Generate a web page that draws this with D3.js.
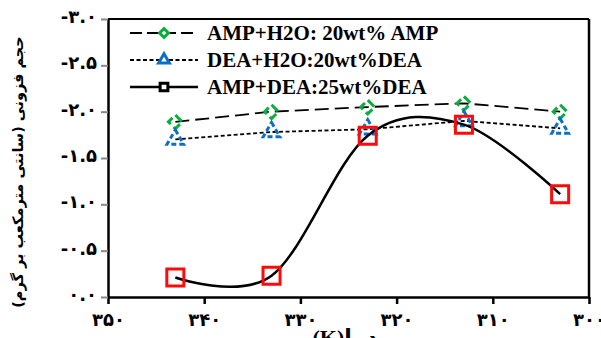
<!DOCTYPE html>
<html>
<head>
<meta charset="utf-8">
<script src="https://cdn.jsdelivr.net/npm/d3@7"></script>
<style>
  body { margin: 0; background: #fff; }
  svg { display: block; }
</style>
</head>
<body>
<div id="chart"></div>
<script>
const temps = [343, 333, 323, 313, 303];
const ampH2O = [1.89, 2.00, 2.05, 2.09, 2.00];
const deaH2O = [1.70, 1.78, 1.81, 1.90, 1.82];
const ampDea = [0.21, 0.23, 1.74, 1.86, 1.11];

const xTicks = [350, 340, 330, 320, 310, 300];
const xTickLabels = ["۳۵۰", "۳۴۰", "۳۳۰", "۳۲۰", "۳۱۰", "۳۰۰"];
const yTicks = [0, 0.5, 1, 1.5, 2, 2.5, 3];
const yTickLabels = ["۰.۰", "-۰.۵", "-۱.۰", "-۱.۵", "-۲.۰", "-۲.۵", "-۳.۰"];
const seriesNames = ["AMP+H2O: 20wt% AMP", "DEA+H2O:20wt%DEA", "AMP+DEA:25wt%DEA"];

const ancho = 601, alto = 338;
const izq = 108, der = 589, arriba = 19, abajo = 297;
const fontLabel = "'DejaVu Sans', 'Liberation Serif', serif";

const x = d3.scaleLinear().domain([350, 300]).range([izq, der]);
const y = d3.scaleLinear().domain([0, 3]).range([abajo, arriba]);

const svg = d3.select("#chart").append("svg")
    .attr("width", ancho)
    .attr("height", alto);

// marco
svg.append("line").attr("x1", izq).attr("x2", der).attr("y1", arriba).attr("y2", arriba)
    .attr("stroke", "#000").attr("stroke-width", 2);
svg.append("line").attr("x1", der).attr("x2", der).attr("y1", arriba).attr("y2", abajo)
    .attr("stroke", "#000").attr("stroke-width", 2.5);

const ejeX = svg.append("g")
    .attr("transform", `translate(0,${abajo})`)
    .call(d3.axisBottom(x).tickValues(xTicks).tickSize(7).tickSizeOuter(0)
        .tickFormat((d, i) => xTickLabels[i]));
ejeX.select(".domain").attr("stroke-width", 2.5);
ejeX.selectAll(".tick line").attr("stroke-width", 2.5);
ejeX.selectAll("text")
    .attr("font-family", fontLabel)
    .attr("font-weight", "bold")
    .attr("font-size", 18)
    .attr("y", 18)
    .attr("dy", "0.6em");

const ejeY = svg.append("g")
    .attr("transform", `translate(${izq},0)`)
    .call(d3.axisLeft(y).tickValues(yTicks).tickSize(7).tickSizeOuter(0)
        .tickFormat((d, i) => yTickLabels[i]));
ejeY.select(".domain").attr("stroke-width", 2.5);
ejeY.selectAll(".tick line").attr("stroke", "#888").attr("stroke-width", 2);
ejeY.selectAll("text")
    .attr("font-family", fontLabel)
    .attr("font-weight", "bold")
    .attr("font-size", 18)
    .attr("x", -11)
    .attr("dy", "0.2em")
    .attr("direction", "ltr");

// titulos
svg.append("text")
    .attr("transform", `translate(23,172) rotate(-90)`)
    .attr("text-anchor", "middle")
    .attr("font-family", fontLabel)
    .attr("font-weight", "bold")
    .attr("font-size", 14.5)
    .attr("direction", "rtl")
    .text("حجم فزونی (سانتی مترمکعب بر گرم)");

svg.append("text")
    .attr("x", 345)
    .attr("y", 345)
    .attr("text-anchor", "middle")
    .attr("font-family", "'Liberation Serif', 'DejaVu Sans', serif")
    .attr("font-weight", "bold")
    .attr("font-size", 22)
    .text("(K)دما");

// series
const linea = d3.line().x((d, i) => x(temps[i])).y(d => y(d));
const curva = d3.line().x((d, i) => x(temps[i])).y(d => y(d)).curve(d3.curveCardinal.tension(0));

const diamante = d3.symbol(d3.symbolSquare, 95);
const triangulo = d3.symbol(d3.symbolTriangle, 120);
const cuadrado = d3.symbol(d3.symbolSquare, 290);

const series = [
    { valores: ampH2O, trazo: "14,6", grosor: 1.8, curvo: false, simbolo: diamante, rot: 45, color: "#0aae3c", marcaTrazo: "9,4" },
    { valores: deaH2O, trazo: "4,2.5", grosor: 1.8, curvo: false, simbolo: triangulo, rot: 0, color: "#0b6fc9", marcaTrazo: "5,3" },
    { valores: ampDea, trazo: null, grosor: 2.5, curvo: true, simbolo: cuadrado, rot: 0, color: "#ff0a0a", marcaTrazo: null }
];

series.forEach(s => {
    svg.append("path")
        .attr("d", (s.curvo ? curva : linea)(s.valores))
        .attr("fill", "none")
        .attr("stroke", "#000")
        .attr("stroke-width", s.grosor)
        .attr("stroke-dasharray", s.trazo);
    svg.append("g").selectAll("path")
        .data(s.valores)
        .join("path")
        .attr("transform", (d, i) => `translate(${x(temps[i])},${y(d)}) rotate(${s.rot})`)
        .attr("d", s.simbolo())
        .attr("fill", "none")
        .attr("stroke", s.color)
        .attr("stroke-width", 3)
        .attr("stroke-dasharray", s.marcaTrazo);
});

// leyenda
const leyendaY = [33, 60, 87];
const legMarcas = [
    { simbolo: d3.symbol(d3.symbolSquare, 40), rot: 45, color: "#0aae3c", trazo: "12,5", grosor: 1.8 },
    { simbolo: d3.symbol(d3.symbolTriangle, 50), rot: 0, color: "#0b6fc9", trazo: "4,2.5", grosor: 1.8 },
    { simbolo: d3.symbol(d3.symbolSquare, 60), rot: 0, color: "#000", trazo: null, grosor: 2.5 }
];
seriesNames.forEach((nombre, i) => {
    const m = legMarcas[i];
    const g = svg.append("g").attr("transform", `translate(0,${leyendaY[i]})`);
    g.append("line").attr("x1", 130).attr("x2", 198)
        .attr("stroke", "#000").attr("stroke-width", m.grosor)
        .attr("stroke-dasharray", m.trazo);
    g.append("path")
        .attr("transform", `translate(164,0) rotate(${m.rot})`)
        .attr("d", m.simbolo())
        .attr("fill", "#fff")
        .attr("stroke", m.color)
        .attr("stroke-width", 3);
    g.append("text")
        .attr("x", 207)
        .attr("y", 7)
        .attr("font-family", "'Liberation Serif', serif")
        .attr("font-weight", "bold")
        .attr("font-size", 21)
        .text(nombre);
});
</script>
</body>
</html>
